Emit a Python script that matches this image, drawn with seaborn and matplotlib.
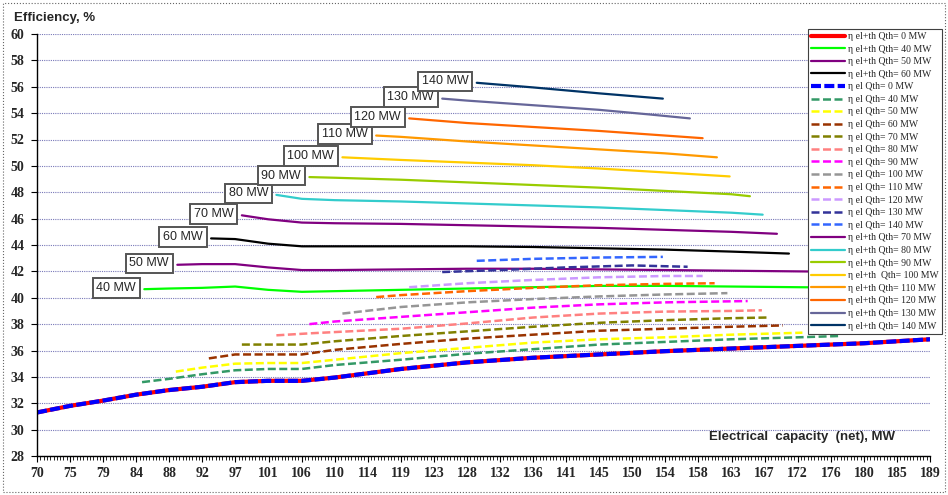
#!/usr/bin/env python3
"""
Efficiency of the plant vs. net electrical capacity for several heat loads (Qth)
"""
import matplotlib
matplotlib.use("Agg")
import matplotlib.pyplot as plt
from matplotlib.patches import Rectangle
from matplotlib.ticker import FixedLocator
import numpy as np
import pandas as pd
import seaborn as sns

# x axis category labels (MW), evenly spaced from 70 to 189
x_tick_labels = ["70", "75", "79", "84", "88", "92", "97", "101", "106", "110",
                 "114", "119", "123", "128", "132", "136", "141", "145", "150",
                 "154", "158", "163", "167", "172", "176", "180", "185", "189"]

# Qth = 0 MW (electric and el+th curves coincide)
q0_x = [70.0, 74.4, 78.8, 83.2, 87.6, 92.0, 96.4, 100.8, 105.3, 109.7, 118.5,
        127.3, 136.1, 144.9, 153.7, 162.5, 171.4, 180.2, 184.6, 189.0]
q0_y = [31.3, 31.8, 32.2, 32.65, 33.0, 33.25, 33.6, 33.7, 33.7, 33.95, 34.6,
        35.1, 35.45, 35.7, 35.95, 36.15, 36.35, 36.55, 36.7, 36.85]

# electric efficiency, dashed curves
el40_x = [84.0, 87.6, 92.0, 96.4, 100.8, 105.3, 109.7, 118.5, 127.3, 136.1, 144.9, 153.7, 162.5, 171.4, 177.0]
el40_y = [33.6, 33.85, 34.2, 34.5, 34.6, 34.6, 34.9, 35.3, 35.75, 36.1, 36.45, 36.65, 36.85, 37.0, 37.1]
el50_x = [88.5, 92.0, 96.4, 100.8, 105.3, 109.7, 118.5, 127.3, 136.1, 144.9, 153.7, 162.5, 172.0]
el50_y = [34.4, 34.7, 35.0, 35.05, 35.05, 35.3, 35.8, 36.2, 36.6, 36.85, 37.0, 37.2, 37.35]
el60_x = [92.9, 96.4, 100.8, 105.3, 109.7, 118.5, 127.3, 136.1, 144.9, 153.7, 162.5, 169.4]
el60_y = [35.4, 35.7, 35.7, 35.7, 36.05, 36.5, 36.9, 37.2, 37.5, 37.65, 37.8, 37.9]
el70_x = [97.3, 100.8, 105.3, 109.7, 118.5, 127.3, 136.1, 144.9, 153.7, 162.5, 167.3]
el70_y = [36.45, 36.45, 36.45, 36.7, 37.1, 37.45, 37.8, 38.1, 38.3, 38.45, 38.5]
el80_x = [101.9, 106.3, 118.5, 127.3, 136.1, 144.9, 153.7, 162.5, 166.6]
el80_y = [37.15, 37.3, 37.65, 38.05, 38.5, 38.8, 38.95, 39.0, 39.05]
el90_x = [106.3, 109.7, 118.5, 127.3, 136.1, 144.9, 153.7, 164.7]
el90_y = [38.0, 38.2, 38.55, 38.9, 39.25, 39.5, 39.65, 39.75]
el100_x = [110.7, 118.5, 127.3, 136.1, 144.9, 153.7, 162.0]
el100_y = [38.8, 39.3, 39.65, 39.9, 40.1, 40.25, 40.35]
el110_x = [115.2, 118.5, 127.3, 136.1, 144.9, 153.7, 160.3]
el110_y = [40.05, 40.2, 40.5, 40.75, 40.95, 41.05, 41.1]
el120_x = [119.6, 127.3, 136.1, 144.9, 153.7, 158.7]
el120_y = [40.8, 41.1, 41.35, 41.55, 41.65, 41.65]
el130_x = [124.0, 131.7, 140.5, 149.3, 156.7]
el130_y = [41.95, 42.1, 42.3, 42.45, 42.35]
el140_x = [128.6, 136.1, 144.9, 153.4]
el140_y = [42.8, 42.95, 43.05, 43.1]

# electric + thermal efficiency, solid curves
elth40_x = [84.3, 87.6, 92.0, 96.4, 100.8, 105.3, 109.7, 118.5, 127.3, 136.1, 144.9, 153.7, 162.5, 171.4, 180.2, 189.0]
elth40_y = [40.65, 40.7, 40.75, 40.85, 40.6, 40.45, 40.5, 40.6, 40.7, 40.8, 40.9, 40.9, 40.85, 40.8, 40.75, 40.7]
elth50_x = [88.7, 92.0, 96.4, 100.8, 105.3, 109.7, 118.5, 127.3, 136.1, 144.9, 153.7, 162.5, 171.4, 180.2, 189.0]
elth50_y = [42.5, 42.55, 42.55, 42.3, 42.1, 42.1, 42.15, 42.2, 42.2, 42.15, 42.1, 42.05, 42.0, 41.95, 41.95]
elth60_x = [93.2, 96.4, 100.8, 105.3, 109.7, 118.5, 127.3, 136.1, 144.9, 153.7, 162.5, 170.2]
elth60_y = [44.5, 44.45, 44.1, 43.9, 43.9, 43.9, 43.9, 43.85, 43.75, 43.65, 43.5, 43.35]
elth70_x = [97.3, 100.8, 105.3, 109.7, 118.5, 127.3, 136.1, 144.9, 153.7, 162.5, 168.6]
elth70_y = [46.25, 45.95, 45.7, 45.65, 45.6, 45.5, 45.4, 45.3, 45.15, 45.0, 44.85]
elth80_x = [101.9, 105.3, 109.7, 118.5, 127.3, 136.1, 144.9, 153.7, 162.5, 166.7]
elth80_y = [47.8, 47.5, 47.4, 47.3, 47.15, 47.0, 46.85, 46.65, 46.45, 46.3]
elth90_x = [106.3, 109.7, 118.5, 127.3, 136.1, 144.9, 153.7, 162.5, 165.0]
elth90_y = [49.15, 49.1, 48.95, 48.75, 48.55, 48.35, 48.1, 47.85, 47.7]
elth100_x = [110.7, 118.5, 127.3, 136.1, 144.9, 153.7, 162.3]
elth100_y = [50.65, 50.45, 50.25, 50.05, 49.8, 49.5, 49.2]
elth110_x = [115.2, 118.5, 127.3, 136.1, 144.9, 153.7, 160.6]
elth110_y = [52.3, 52.2, 51.85, 51.55, 51.25, 50.95, 50.65]
elth120_x = [119.6, 127.3, 136.1, 144.9, 153.7, 158.7]
elth120_y = [53.6, 53.25, 52.95, 52.65, 52.3, 52.1]
elth130_x = [124.0, 127.3, 136.1, 144.9, 151.6, 157.0]
elth130_y = [55.1, 54.95, 54.6, 54.25, 53.9, 53.6]
elth140_x = [128.6, 136.1, 144.9, 153.4]
elth140_y = [56.3, 55.95, 55.5, 55.1]

W, H = 948, 495
sns.set_style("ticks")
plt.rcParams["font.family"] = ["Liberation Serif", "DejaVu Serif"]

fig = plt.figure(figsize=(W / 100, H / 100), dpi=100)
ax = fig.add_axes([37 / W, 1 - 456 / H, (930 - 37) / W, (456 - 34) / H])

solid = "-"
dash = (0, (3.2, 1.4))
# (legend label, x, y, colour, linestyle, linewidth) in the original legend order
series = [
    ("\u03b7 el+th Qth= 0 MW", q0_x, q0_y, "#FF0000", solid, 3.0),
    ("\u03b7 el+th Qth= 40 MW", elth40_x, elth40_y, "#00FF00", solid, 1.6),
    ("\u03b7 el+th Qth= 50 MW", elth50_x, elth50_y, "#800080", solid, 1.6),
    ("\u03b7 el+th Qth= 60 MW", elth60_x, elth60_y, "#000000", solid, 1.6),
    ("\u03b7 el Qth= 0 MW", q0_x, q0_y, "#0000FF", (0, (2.4, 0.8)), 3.0),
    ("\u03b7 el Qth= 40 MW", el40_x, el40_y, "#339966", dash, 1.8),
    ("\u03b7 el Qth= 50 MW", el50_x, el50_y, "#FFFF00", dash, 1.8),
    ("\u03b7 el Qth= 60 MW", el60_x, el60_y, "#993300", dash, 1.8),
    ("\u03b7 el Qth= 70 MW", el70_x, el70_y, "#808000", dash, 1.8),
    ("\u03b7 el Qth= 80 MW", el80_x, el80_y, "#FF8080", dash, 1.8),
    ("\u03b7 el Qth= 90 MW", el90_x, el90_y, "#FF00FF", dash, 1.8),
    ("\u03b7 el Qth= 100 MW", el100_x, el100_y, "#969696", dash, 1.8),
    ("\u03b7 el Qth= 110 MW", el110_x, el110_y, "#FF6600", dash, 1.8),
    ("\u03b7 el Qth= 120 MW", el120_x, el120_y, "#CC99FF", dash, 1.8),
    ("\u03b7 el Qth= 130 MW", el130_x, el130_y, "#333399", dash, 1.8),
    ("\u03b7 el Qth= 140 MW", el140_x, el140_y, "#3366FF", dash, 1.8),
    ("\u03b7 el+th Qth= 70 MW", elth70_x, elth70_y, "#800080", solid, 1.6),
    ("\u03b7 el+th Qth= 80 MW", elth80_x, elth80_y, "#33CCCC", solid, 1.6),
    ("\u03b7 el+th Qth= 90 MW", elth90_x, elth90_y, "#99CC00", solid, 1.6),
    ("\u03b7 el+th  Qth= 100 MW", elth100_x, elth100_y, "#FFCC00", solid, 1.6),
    ("\u03b7 el+th Qth= 110 MW", elth110_x, elth110_y, "#FF9900", solid, 1.6),
    ("\u03b7 el+th Qth= 120 MW", elth120_x, elth120_y, "#FF6600", solid, 1.6),
    ("\u03b7 el+th Qth= 130 MW", elth130_x, elth130_y, "#666699", solid, 1.6),
    ("\u03b7 el+th Qth= 140 MW", elth140_x, elth140_y, "#003366", solid, 1.6),
]

handles = []
for label, xs, ys, color, ls, lw in series:
    df = pd.DataFrame({"x": xs, "y": ys})
    n_before = len(ax.lines)
    sns.lineplot(data=df, x="x", y="y", ax=ax, color=color, linestyle=ls,
                 linewidth=lw, estimator=None, sort=False, legend=False)
    handles.append(ax.lines[n_before])

# boxed labels at the start of the el+th curves
box_curves = [("40 MW", elth40_x, elth40_y), ("50 MW", elth50_x, elth50_y),
              ("60 MW", elth60_x, elth60_y), ("70 MW", elth70_x, elth70_y),
              ("80 MW", elth80_x, elth80_y), ("90 MW", elth90_x, elth90_y),
              ("100 MW", elth100_x, elth100_y), ("110 MW", elth110_x, elth110_y),
              ("120 MW", elth120_x, elth120_y), ("130 MW", elth130_x, elth130_y),
              ("140 MW", elth140_x, elth140_y)]
for txt, xs, ys in box_curves:
    ax.annotate(txt, xy=(xs[0], ys[0]), xytext=(-6, 1), textcoords="offset points",
                ha="right", va="center", fontsize=9, family="Liberation Sans",
                bbox=dict(boxstyle="square,pad=0.3", fc="white", ec="#555555", lw=1.4),
                zorder=5)

ax.set_xlim(70, 189)
ax.set_ylim(28, 60)
ax.set_yticks(np.arange(28, 61, 2))
ax.set_yticklabels([str(v) for v in range(28, 61, 2)], fontweight="bold", fontsize=10)
major = np.linspace(70, 189, len(x_tick_labels))
ax.xaxis.set_major_locator(FixedLocator(major))
ax.set_xticklabels(x_tick_labels, fontweight="bold", fontsize=10)
ax.xaxis.set_minor_locator(FixedLocator(np.linspace(70, 189, (len(x_tick_labels) - 1) * 10 + 1)))
ax.tick_params(axis="both", which="major", direction="out", length=4, width=0.8, color="black")
ax.tick_params(axis="x", which="major", pad=4)
ax.tick_params(axis="y", which="major", pad=5)
ax.tick_params(axis="x", which="minor", direction="out", length=3, width=0.6, color="black")
ax.set_xlabel("")
ax.set_ylabel("")
ax.yaxis.grid(True, linestyle=(0, (1, 1)), color="#7878B8", linewidth=0.8)
ax.set_axisbelow(True)
for s in ["top", "right"]:
    ax.spines[s].set_visible(False)
for s in ["left", "bottom"]:
    ax.spines[s].set_color("black")
    ax.spines[s].set_linewidth(1.0)

ax.text(0.961, 0.045, "Electrical  capacity  (net), MW", transform=ax.transAxes,
        ha="right", va="center", fontsize=9.5, fontweight="bold", family="Liberation Sans")
fig.text(14 / W, 1 - 18 / H, "Efficiency, %", ha="left", va="center",
         fontsize=9.5, fontweight="bold", family="Liberation Sans")

leg = ax.legend(handles=handles, labels=[s[0] for s in series], loc="upper left",
                bbox_to_anchor=(808 / W, 1 - 29 / H), bbox_transform=fig.transFigure,
                prop={"family": "Liberation Serif", "size": 7}, frameon=True,
                fancybox=False, edgecolor="#404040", framealpha=1, handlelength=3.5,
                labelspacing=0.37, borderpad=0.3, handletextpad=0.3, borderaxespad=0)
leg.get_frame().set_linewidth(0.8)

# dotted chart-area border
fig.add_artist(Rectangle((3 / W, 3 / H), (945 - 3) / W, (492 - 3) / H,
                         transform=fig.transFigure, fill=False, ls=":", ec="#666666", lw=0.8))

fig.savefig("out.png", dpi=100)
